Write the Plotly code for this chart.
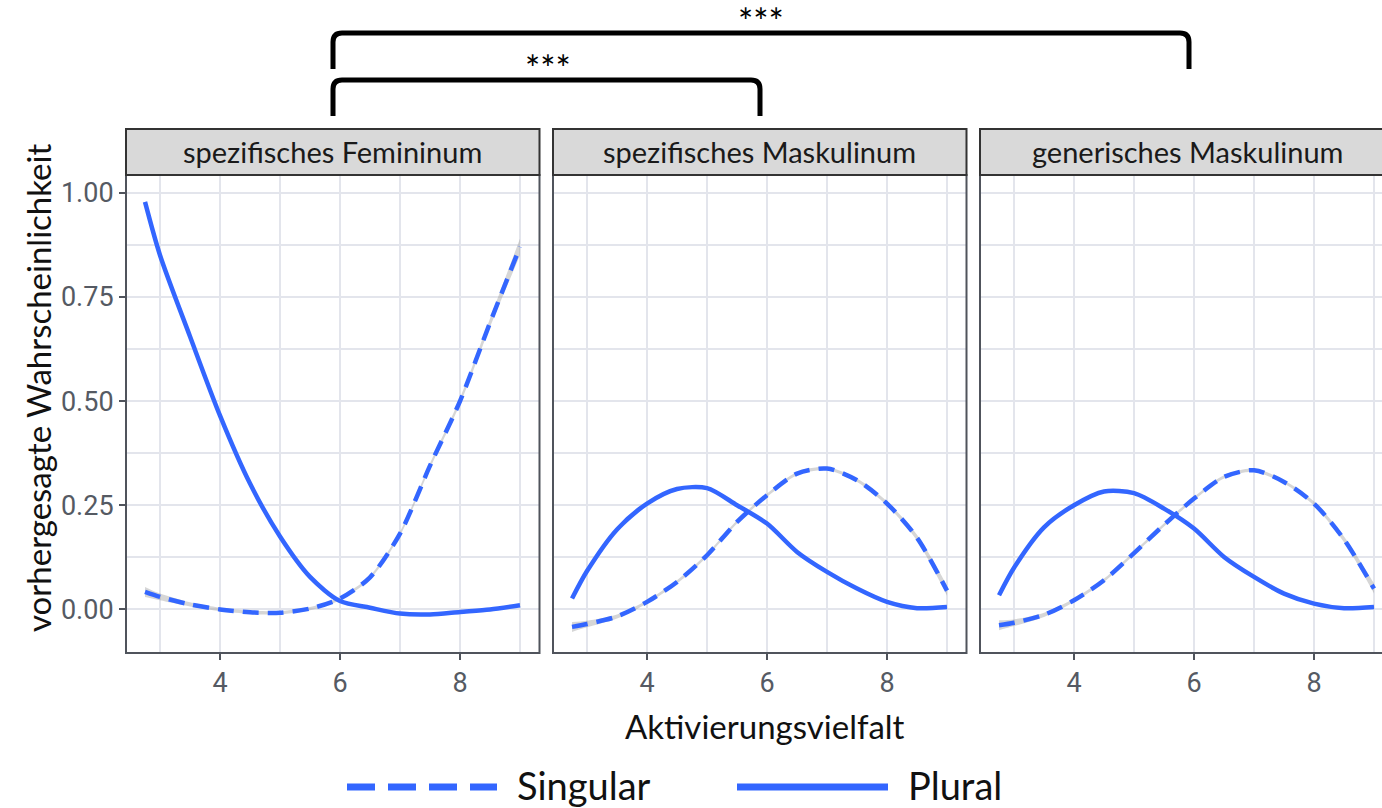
import plotly.graph_objects as go

W, H = 1382, 808

# ---------------- data ----------------
facets = ["spezifisches Femininum", "spezifisches Maskulinum", "generisches Maskulinum"]
series_names = ["Singular", "Plural"]
x_vals = [2.75, 3.0, 3.5, 4.0, 4.5, 5.0, 5.5, 6.0, 6.5, 7.0, 7.5, 8.0, 8.5, 9.0]

sing_fem = [0.042, 0.030, 0.012, 0.000, -0.007, -0.008, 0.002, 0.026, 0.077, 0.182, 0.345, 0.500, 0.688, 0.870]
plur_fem = [0.978, 0.850, 0.655, 0.465, 0.302, 0.175, 0.078, 0.020, 0.004, -0.010, -0.012, -0.006, 0.000, 0.010]
sing_smask = [-0.042, -0.035, -0.017, 0.018, 0.066, 0.130, 0.210, 0.274, 0.326, 0.338, 0.310, 0.254, 0.172, 0.045]
plur_smask = [0.026, 0.092, 0.192, 0.254, 0.289, 0.291, 0.250, 0.206, 0.138, 0.090, 0.050, 0.018, 0.003, 0.006]
sing_gmask = [-0.038, -0.032, -0.013, 0.022, 0.070, 0.135, 0.203, 0.266, 0.318, 0.334, 0.306, 0.254, 0.168, 0.050]
plur_gmask = [0.034, 0.100, 0.197, 0.250, 0.283, 0.279, 0.242, 0.194, 0.126, 0.078, 0.038, 0.014, 0.003, 0.006]

# half-width of the confidence ribbon around the Singular curves
ci_fem = [0.012, 0.008, 0.005, 0.004, 0.004, 0.004, 0.004, 0.004, 0.004, 0.005, 0.006, 0.007, 0.010, 0.020]
ci_smask = [0.012, 0.008, 0.005, 0.004, 0.004, 0.004, 0.004, 0.004, 0.004, 0.004, 0.004, 0.005, 0.007, 0.012]
ci_gmask = [0.012, 0.008, 0.005, 0.004, 0.004, 0.004, 0.004, 0.004, 0.004, 0.004, 0.004, 0.005, 0.007, 0.012]

x_ticks = [4, 6, 8]
x_minor = [3, 5, 7, 9]
y_ticks = [0.0, 0.25, 0.5, 0.75, 1.0]
y_ticktext = ["0.00", "0.25", "0.50", "0.75", "1.00"]
y_minor = [0.125, 0.375, 0.625, 0.875]
stars = ["***", "***"]

sing_all = [sing_fem, sing_smask, sing_gmask]
plur_all = [plur_fem, plur_smask, plur_gmask]
ci_all = [ci_fem, ci_smask, ci_gmask]

# ---------------- styling ----------------
BLUE = "#3366FF"
RIB = "rgba(153,153,153,0.4)"
GRID = "#E3E5EC"
BORDER = "#50545C"
TICKC = "#555A63"
TXT = "#111111"
FONT = "Lato"
TFONT = "Roboto"


def fx(p):
    return p / W


def fy(p):
    return 1 - p / H


# panel pixel geometry
px_per_unit = 60.0
x0_val = 2.433
panel_left = [126, 553, 980]
panel_right = [539.5, 966.5, 1382]
panel_top, panel_bottom = 175, 653
strip_top = 129
y_top_val = 1.0425
y_bot_val = y_top_val - (panel_bottom - panel_top) / 416.7

fig = go.Figure()

for i in range(3):
    xa = "x" if i == 0 else f"x{i+1}"
    ya = "y" if i == 0 else f"y{i+1}"
    lo = [s - c for s, c in zip(sing_all[i], ci_all[i])]
    hi = [s + c for s, c in zip(sing_all[i], ci_all[i])]
    fig.add_trace(go.Scatter(x=x_vals, y=lo, mode="lines", line=dict(width=0, shape="spline", smoothing=0.8, color=RIB),
                             xaxis=xa, yaxis=ya, showlegend=False, hoverinfo="skip"))
    fig.add_trace(go.Scatter(x=x_vals, y=hi, mode="lines", line=dict(width=0, shape="spline", smoothing=0.8, color=RIB),
                             fill="tonexty", fillcolor=RIB, xaxis=xa, yaxis=ya, showlegend=False, hoverinfo="skip"))
    fig.add_trace(go.Scatter(x=x_vals, y=sing_all[i], mode="lines", name=series_names[0],
                             line=dict(color=BLUE, width=4.5, dash="16px,9px", shape="spline", smoothing=0.8),
                             xaxis=xa, yaxis=ya, showlegend=False))
    fig.add_trace(go.Scatter(x=x_vals, y=plur_all[i], mode="lines", name=series_names[1],
                             line=dict(color=BLUE, width=4.5, shape="spline", smoothing=0.8),
                             xaxis=xa, yaxis=ya, showlegend=False))

layout = dict(
    width=W, height=H,
    margin=dict(l=0, r=0, t=0, b=0),
    paper_bgcolor="white", plot_bgcolor="white",
    showlegend=False,
    font=dict(family=FONT, color=TXT),
)

for i in range(3):
    xk = "xaxis" if i == 0 else f"xaxis{i+1}"
    yk = "yaxis" if i == 0 else f"yaxis{i+1}"
    ya = "y" if i == 0 else f"y{i+1}"
    xa = "x" if i == 0 else f"x{i+1}"
    xr1 = x0_val + (panel_right[i] - panel_left[i]) / px_per_unit
    layout[xk] = dict(
        domain=[fx(panel_left[i]), fx(panel_right[i])], anchor=ya,
        range=[x0_val, xr1], tickmode="array", tickvals=x_ticks,
        ticks="outside", ticklen=6, tickwidth=2, tickcolor=BORDER,
        tickfont=dict(family=TFONT, size=27, color=TICKC),
        showgrid=True, gridcolor=GRID, gridwidth=2, zeroline=False,
        minor=dict(tickmode="array", tickvals=x_minor, showgrid=True, gridcolor=GRID, gridwidth=1.5, ticks=""),
        showline=False, fixedrange=True,
    )
    layout[yk] = dict(
        domain=[fy(panel_bottom), fy(panel_top)], anchor=xa,
        range=[y_bot_val, y_top_val], tickmode="array", tickvals=y_ticks, ticktext=y_ticktext,
        ticks="outside" if i == 0 else "", ticklen=6, tickwidth=2, tickcolor=BORDER,
        showticklabels=(i == 0),
        tickfont=dict(family=TFONT, size=27, color=TICKC),
        showgrid=True, gridcolor=GRID, gridwidth=2, zeroline=False,
        minor=dict(tickmode="array", tickvals=y_minor, showgrid=True, gridcolor=GRID, gridwidth=1.5, ticks=""),
        showline=False, fixedrange=True,
    )

fig.update_layout(**layout)

shapes = []
annotations = []
for i in range(3):
    right_edge = panel_right[i] if i < 2 else 1394
    # panel border
    shapes.append(dict(type="rect", xref="paper", yref="paper",
                       x0=fx(panel_left[i]), x1=fx(right_edge), y0=fy(panel_bottom), y1=fy(panel_top),
                       line=dict(color=BORDER, width=2), fillcolor="rgba(0,0,0,0)", layer="above"))
    # strip
    shapes.append(dict(type="rect", xref="paper", yref="paper",
                       x0=fx(panel_left[i]), x1=fx(right_edge), y0=fy(panel_top), y1=fy(strip_top),
                       line=dict(color="#333333", width=2), fillcolor="#D9D9D9", layer="above"))
    annotations.append(dict(text=facets[i], xref="paper", yref="paper",
                            x=fx((panel_left[i] + right_edge) / 2), y=fy((strip_top + panel_top) / 2),
                            showarrow=False, xanchor="center", yanchor="middle",
                            font=dict(family=FONT, size=29, color="#1A1A1A")))


def bracket(xl, xr, ytop, ybot, r=9):
    p = (f"M {fx(xl)},{fy(ybot)} L {fx(xl)},{fy(ytop + r)} Q {fx(xl)},{fy(ytop)} {fx(xl + r)},{fy(ytop)} "
         f"L {fx(xr - r)},{fy(ytop)} Q {fx(xr)},{fy(ytop)} {fx(xr)},{fy(ytop + r)} L {fx(xr)},{fy(ybot)}")
    return dict(type="path", xref="paper", yref="paper", path=p, line=dict(color="black", width=5))


shapes.append(bracket(333, 760, 80, 116))
shapes.append(bracket(333, 1189, 33, 69))
annotations.append(dict(text=stars[0], xref="paper", yref="paper", x=fx(548), y=fy(68),
                        showarrow=False, xanchor="center", yanchor="middle",
                        font=dict(family=FONT, size=36, color="black")))
annotations.append(dict(text=stars[1], xref="paper", yref="paper", x=fx(761), y=fy(21),
                        showarrow=False, xanchor="center", yanchor="middle",
                        font=dict(family=FONT, size=36, color="black")))

# axis titles
annotations.append(dict(text="Aktivierungsvielfalt", xref="paper", yref="paper", x=fx(765), y=fy(726),
                        showarrow=False, xanchor="center", yanchor="middle",
                        font=dict(family=FONT, size=33, color=TXT)))
annotations.append(dict(text="vorhergesagte Wahrscheinlichkeit", xref="paper", yref="paper", x=fx(38), y=fy(388),
                        showarrow=False, xanchor="center", yanchor="middle", textangle=-90,
                        font=dict(family=FONT, size=33, color=TXT)))

# legend (drawn manually to match long key glyphs)
shapes.append(dict(type="line", xref="paper", yref="paper", x0=fx(347), x1=fx(497), y0=fy(787), y1=fy(787),
                   line=dict(color=BLUE, width=7, dash="28px,13px")))
shapes.append(dict(type="line", xref="paper", yref="paper", x0=fx(737), x1=fx(888), y0=fy(787), y1=fy(787),
                   line=dict(color=BLUE, width=7)))
annotations.append(dict(text=series_names[0], xref="paper", yref="paper", x=fx(515), y=fy(785),
                        showarrow=False, xanchor="left", yanchor="middle",
                        font=dict(family=FONT, size=38, color=TXT)))
annotations.append(dict(text=series_names[1], xref="paper", yref="paper", x=fx(906), y=fy(785),
                        showarrow=False, xanchor="left", yanchor="middle",
                        font=dict(family=FONT, size=38, color=TXT)))

fig.update_layout(shapes=shapes, annotations=annotations)
fig.write_html("out.html")
